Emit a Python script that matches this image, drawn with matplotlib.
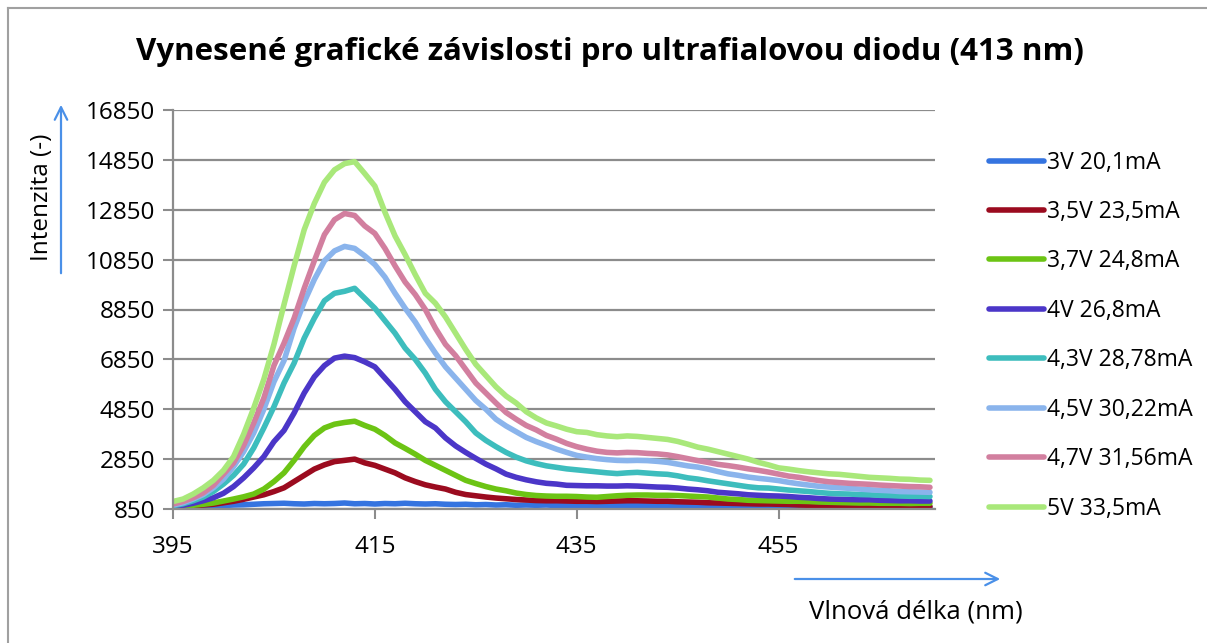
import numpy as np
import matplotlib
matplotlib.use("Agg")
import matplotlib.pyplot as plt
from matplotlib.lines import Line2D

plt.rcParams["font.family"] = ["Open Sans", "DejaVu Sans"]

# ── Data (1 nm step) ──────────────────────────────────────
wavelength = list(range(395, 471))

labels = ["3V 20,1mA", "3,5V 23,5mA", "3,7V 24,8mA", "4V 26,8mA",
          "4,3V 28,78mA", "4,5V 30,22mA", "4,7V 31,56mA", "5V 33,5mA"]
colors = ["#3574E0", "#9B0B1F", "#6CC414", "#4B36C8",
          "#3DBDBD", "#8AB4EC", "#D27F9F", "#A9E87A"]

i_3V = [920, 930, 950, 960, 980, 990, 1010, 1020, 1040, 1060,
        1070, 1080, 1060, 1050, 1070, 1060, 1070, 1090, 1060, 1070,
        1050, 1070, 1060, 1080, 1060, 1050, 1060, 1040, 1030, 1040,
        1020, 1030, 1010, 1020, 1000, 1010, 1000, 1010, 990, 1000,
        990, 980, 990, 1000, 990, 1000, 980, 990, 980, 970,
        980, 970, 960, 970, 960, 950, 960, 950, 950, 940,
        950, 940, 940, 930, 940, 930, 930, 920, 930, 920,
        920, 930, 920, 920, 910, 920]
i_35V = [920, 940, 970, 1010, 1040, 1100, 1160, 1240, 1330, 1420,
         1550, 1700, 1950, 2200, 2450, 2620, 2750, 2800, 2850, 2700,
         2600, 2450, 2300, 2100, 1950, 1820, 1730, 1650, 1520, 1430,
         1380, 1330, 1290, 1260, 1230, 1210, 1190, 1180, 1180, 1170,
         1160, 1160, 1150, 1160, 1170, 1180, 1180, 1170, 1160, 1160,
         1140, 1130, 1120, 1100, 1090, 1080, 1070, 1060, 1050, 1050,
         1040, 1030, 1010, 1000, 990, 980, 980, 970, 970, 960,
         960, 950, 950, 950, 950, 950]
i_37V = [940, 970, 1000, 1040, 1090, 1170, 1250, 1340, 1450, 1650,
         1950, 2300, 2800, 3350, 3800, 4100, 4250, 4320, 4370, 4200,
         4050, 3800, 3500, 3280, 3050, 2800, 2600, 2400, 2200, 2000,
         1870, 1750, 1650, 1580, 1490, 1430, 1390, 1370, 1360, 1360,
         1350, 1330, 1320, 1350, 1380, 1400, 1410, 1410, 1400, 1400,
         1390, 1370, 1350, 1330, 1290, 1250, 1230, 1200, 1190, 1180,
         1170, 1160, 1160, 1150, 1130, 1120, 1110, 1100, 1090, 1090,
         1080, 1080, 1080, 1070, 1080, 1080]
i_4V = [950, 1000, 1080, 1180, 1300, 1480, 1750, 2100, 2500, 2950,
        3550, 4000, 4700, 5500, 6150, 6600, 6900, 6980, 6920, 6750,
        6550, 6100, 5650, 5150, 4750, 4350, 4100, 3700, 3380, 3120,
        2880, 2650, 2460, 2250, 2120, 2020, 1940, 1880, 1850, 1800,
        1790, 1780, 1780, 1770, 1770, 1780, 1770, 1750, 1730, 1720,
        1690, 1650, 1620, 1580, 1520, 1490, 1460, 1420, 1400, 1380,
        1370, 1350, 1320, 1300, 1270, 1250, 1240, 1230, 1220, 1220,
        1200, 1190, 1180, 1180, 1170, 1170]
i_43V = [980, 1060, 1180, 1330, 1550, 1850, 2200, 2650, 3300, 4100,
         4950, 5900, 6700, 7700, 8500, 9200, 9500, 9580, 9700, 9300,
         8900, 8400, 7900, 7300, 6850, 6300, 5650, 5150, 4750, 4350,
         3900, 3600, 3350, 3120, 2930, 2780, 2670, 2580, 2520, 2460,
         2420, 2380, 2340, 2300, 2270, 2300, 2320, 2290, 2260, 2240,
         2180, 2100, 2050, 1980, 1920, 1860, 1800, 1740, 1700, 1690,
         1650, 1610, 1580, 1550, 1510, 1480, 1460, 1450, 1430, 1420,
         1400, 1390, 1370, 1360, 1360, 1350]
i_45V = [1010, 1100, 1250, 1430, 1700, 2050, 2550, 3150, 3900, 4850,
         5950, 6800, 8100, 9150, 10050, 10800, 11200, 11380, 11300, 11000,
         10650, 10150, 9500, 8900, 8350, 7700, 7100, 6550, 6100, 5650,
         5200, 4850, 4450, 4180, 3950, 3720, 3550, 3400, 3250, 3120,
         3000, 2930, 2870, 2830, 2800, 2790, 2800, 2790, 2760, 2720,
         2650, 2580, 2530, 2450, 2350, 2260, 2200, 2130, 2080, 2040,
         1990, 1920, 1860, 1810, 1760, 1730, 1700, 1680, 1650, 1620,
         1600, 1580, 1550, 1540, 1530, 1520]
i_47V = [1050, 1150, 1300, 1500, 1800, 2250, 2700, 3400, 4300, 5300,
         6600, 7500, 8500, 9700, 10800, 11850, 12450, 12700, 12620, 12200,
         11900, 11300, 10600, 9950, 9450, 8850, 8100, 7450, 7000, 6450,
         5900, 5500, 5100, 4720, 4450, 4200, 4020, 3800, 3650, 3480,
         3350, 3250, 3170, 3120, 3100, 3120, 3110, 3080, 3060, 3020,
         2950, 2870, 2790, 2720, 2640, 2590, 2530, 2460, 2400, 2330,
         2250, 2170, 2120, 2050, 1990, 1940, 1910, 1880, 1860, 1840,
         1810, 1790, 1770, 1750, 1740, 1720]
i_5V = [1150, 1250, 1450, 1700, 2000, 2400, 2950, 3850, 4900, 6050,
        7450, 9050, 10600, 12050, 13100, 13950, 14450, 14700, 14780, 14300,
        13800, 12750, 11800, 11050, 10250, 9500, 9100, 8550, 7900, 7250,
        6650, 6200, 5750, 5380, 5100, 4750, 4500, 4300, 4180, 4050,
        3950, 3920, 3830, 3780, 3750, 3780, 3760, 3720, 3680, 3640,
        3560, 3450, 3330, 3250, 3150, 3050, 2950, 2850, 2720, 2620,
        2500, 2450, 2390, 2340, 2300, 2260, 2240, 2200, 2160, 2120,
        2100, 2080, 2050, 2040, 2010, 2000]

series = [i_3V, i_35V, i_37V, i_4V, i_43V, i_45V, i_47V, i_5V]

y_ticks = list(range(850, 16851, 2000))
x_ticks = [395, 415, 435, 455]

# ── Figure ────────────────────────────────────────────────
W, H = 1207, 643
fig = plt.figure(figsize=(W / 100, H / 100), dpi=100)
ax = fig.add_axes([173 / W, 1 - 509 / H, (935 - 173) / W, (509 - 110) / H])

for vals, c, lab in zip(series, colors, labels):
    ax.plot(wavelength, vals, color=c, lw=4.0, label=lab,
            solid_capstyle="round", solid_joinstyle="round")

ax.set_xlim(395, 470.5)
ax.set_ylim(850, 16850)
ax.set_xticks(x_ticks)
ax.set_yticks(y_ticks)
ax.tick_params(axis="both", labelsize=17.5, colors="#8c8c8c", labelcolor="black",
               width=1.5, length=7, direction="out")
ax.tick_params(axis="x", pad=12)
ax.tick_params(axis="y", pad=6)
ax.grid(axis="y", color="#8c8c8c", lw=1.6)
ax.set_axisbelow(True)
for s in ["top", "right"]:
    ax.spines[s].set_visible(False)
for s in ["left", "bottom"]:
    ax.spines[s].set_color("#8c8c8c")
    ax.spines[s].set_linewidth(1.6)

# legend
handles = [Line2D([], [], color=c, lw=4.0, solid_capstyle="round") for c in colors]
fig.legend(handles, labels, loc="upper left",
           bbox_to_anchor=(968 / W, 1 - 130 / H), frameon=False,
           fontsize=16.5, handlelength=2.4, handletextpad=0.15,
           labelspacing=1.11)

# title
fig.text(610 / W, 1 - 52 / H,
         "Vynesené grafické závislosti pro ultrafialovou diodu (413 nm)",
         ha="center", va="center", fontsize=22.5, fontweight="bold")

# axis labels with arrows
fig.text(42 / W, 1 - 197 / H, "Intenzita (-)", rotation=90,
         ha="center", va="center", fontsize=17.5)
fig.text(916 / W, 1 - 612 / H, "Vlnová délka (nm)",
         ha="center", va="center", fontsize=18.5)
arrow = dict(arrowstyle="->,head_length=0.9,head_width=0.45",
             color="#4A90E8", lw=1.6)
fig.add_artist(plt.Annotation("", xy=(61 / W, 1 - 102 / H),
                              xytext=(61 / W, 1 - 276 / H),
                              xycoords="figure fraction", arrowprops=arrow))
fig.add_artist(plt.Annotation("", xy=(1003 / W, 1 - 579 / H),
                              xytext=(792 / W, 1 - 579 / H),
                              xycoords="figure fraction", arrowprops=arrow))

# chart frame (left and top edges visible)
fig.add_artist(Line2D([8 / W, 8 / W], [0, 1 - 8 / H], color="#a0a0a0", lw=1.5))
fig.add_artist(Line2D([8 / W, 1], [1 - 8 / H, 1 - 8 / H], color="#a0a0a0", lw=1.5))

fig.savefig("out.png", dpi=100)
